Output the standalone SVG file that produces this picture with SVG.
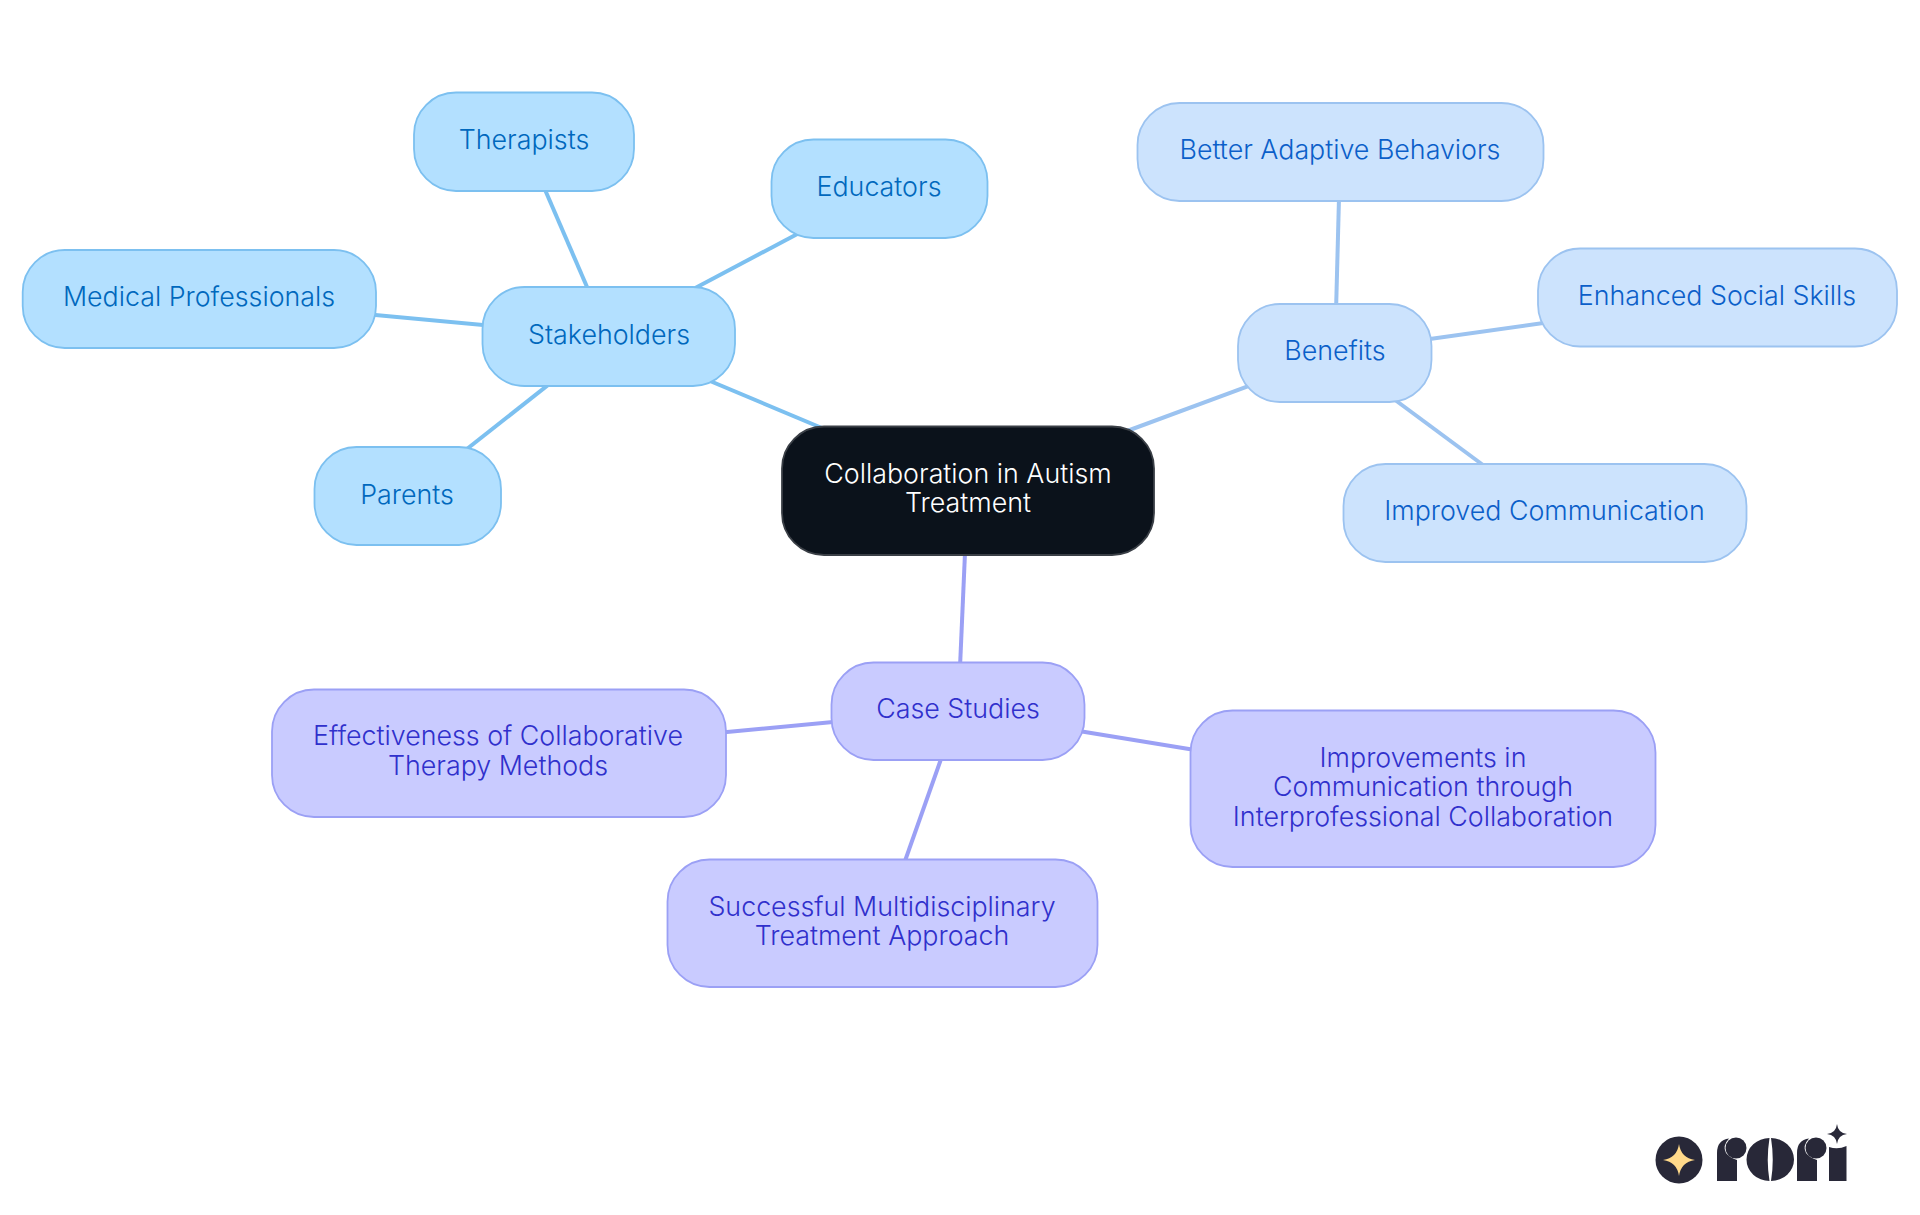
<svg xmlns="http://www.w3.org/2000/svg" width="1920" height="1215" viewBox="0 0 1920 1215">
<style>
text{font-family:"Inter","Noto Sans","Liberation Sans",sans-serif;font-size:26.8px;font-weight:300;text-anchor:middle}
.n{stroke-width:1.8}
.a rect{fill:#b3e0ff;stroke:#7cc0f0}.a text{fill:#0068bd}
.b rect{fill:#cce3fd;stroke:#9cc3f0}.b text{fill:#0b5fc9}
.c rect{fill:#c9cbff;stroke:#9ba0f5}.c text{fill:#3030cc}
.r rect{fill:#0b121b;stroke:#3a3f46}.r text{fill:#fff}
#connectors line{stroke-width:4;fill:none}
.ca{stroke:#7cc0f0}.cb{stroke:#9cc3f0}.cc{stroke:#9ba0f5}
</style>
<rect width="1920" height="1215" fill="#fff"/>
<g id="connectors">
<line class="ca" x1="860" y1="444" x2="660" y2="360"/>
<line class="ca" x1="600" y1="317" x2="530" y2="155"/>
<line class="ca" x1="650" y1="312" x2="850" y2="206"/>
<line class="ca" x1="560" y1="332" x2="300" y2="308"/>
<line class="ca" x1="600" y1="344" x2="420" y2="486"/>
<line class="cb" x1="1100" y1="441" x2="1300" y2="367"/>
<line class="cb" x1="1335" y1="350" x2="1340" y2="160"/>
<line class="cb" x1="1380" y1="346" x2="1600" y2="315"/>
<line class="cb" x1="1360" y1="374" x2="1510" y2="485"/>
<line class="cc" x1="966" y1="530" x2="959" y2="690"/>
<line class="cc" x1="870" y1="718.500" x2="690" y2="735.500"/>
<line class="cc" x1="1030" y1="723" x2="1250" y2="759"/>
<line class="cc" x1="958" y1="711" x2="888" y2="909"/>
</g>
<g id="n-root" class="r"><rect class="n" x="782" y="426.500" width="372" height="128.500" rx="42"/><text x="968" y="482.500">Collaboration in Autism</text><text x="968" y="512">Treatment</text></g>
<g id="n-stakeholders" class="a"><rect class="n" x="482.500" y="287" width="252.500" height="99" rx="42"/><text x="609" y="344">Stakeholders</text></g>
<g id="n-therapists" class="a"><rect class="n" x="414" y="92.500" width="220" height="98.500" rx="42"/><text x="524" y="149">Therapists</text></g>
<g id="n-educators" class="a"><rect class="n" x="771.500" y="139.500" width="216" height="98.500" rx="42"/><text x="879" y="196">Educators</text></g>
<g id="n-medical" class="a"><rect class="n" x="22.700" y="250" width="353.300" height="98" rx="42"/><text x="199" y="306">Medical Professionals</text></g>
<g id="n-parents" class="a"><rect class="n" x="314.500" y="447" width="186.500" height="98" rx="42"/><text x="407" y="503.500">Parents</text></g>
<g id="n-benefits" class="b"><rect class="n" x="1238" y="304" width="193.500" height="98" rx="42"/><text x="1335" y="360">Benefits</text></g>
<g id="n-adaptive" class="b"><rect class="n" x="1137.500" y="103" width="406" height="98" rx="42"/><text x="1340" y="159">Better Adaptive Behaviors</text></g>
<g id="n-social" class="b"><rect class="n" x="1538" y="248.500" width="359" height="98" rx="42"/><text x="1717" y="305">Enhanced Social Skills</text></g>
<g id="n-communication" class="b"><rect class="n" x="1343.500" y="464" width="403" height="98" rx="42"/><text x="1544.500" y="520">Improved Communication</text></g>
<g id="n-case" class="c"><rect class="n" x="831.500" y="662.500" width="253" height="97.500" rx="42"/><text x="958" y="718">Case Studies</text></g>
<g id="n-effect" class="c"><rect class="n" x="272" y="689.500" width="454" height="127.500" rx="42"/><text x="498" y="745">Effectiveness of Collaborative</text><text x="498" y="775">Therapy Methods</text></g>
<g id="n-improve" class="c"><rect class="n" x="1190.500" y="710.500" width="465" height="156.500" rx="42"/><text x="1423" y="766.500">Improvements in</text><text x="1423" y="796">Communication through</text><text x="1423" y="825.500">Interprofessional Collaboration</text></g>
<g id="n-success" class="c"><rect class="n" x="667.500" y="859.500" width="430" height="127.500" rx="42"/><text x="882" y="915.500">Successful Multidisciplinary</text><text x="882" y="945">Treatment Approach</text></g>
<g id="logo" fill="#282838">
<circle cx="1679" cy="1160" r="23.500"/>
<path fill="#ffd98a" d="M1679 1144Q1681 1158 1695 1160Q1681 1162 1679 1176Q1677 1162 1663 1160Q1677 1158 1679 1144Z"/>
<path d="M1717 1181V1153Q1717 1140 1729 1138.500Q1722 1146 1726 1153Q1730 1158 1737 1160V1181Z"/><circle cx="1736" cy="1148" r="10.500"/>
<path d="M1769.500 1138A23 21.500 0 0 0 1769.500 1181Q1766 1160 1769.500 1138Z"/><path d="M1771 1138A23 21.500 0 0 1 1771 1181Q1774.500 1160 1771 1138Z"/>
<path d="M1797 1181V1153Q1797 1140 1809 1138.500Q1802 1146 1806 1153Q1810 1158 1817 1160V1181Z"/><circle cx="1816" cy="1148" r="10.500"/>
<path d="M1829 1181V1147Q1838 1150 1846.500 1146V1181Z"/>
<path d="M1837 1124Q1838 1133 1847 1134Q1838 1135 1837 1144Q1836 1135 1827 1134Q1836 1133 1837 1124Z"/>
</g>
</svg>
